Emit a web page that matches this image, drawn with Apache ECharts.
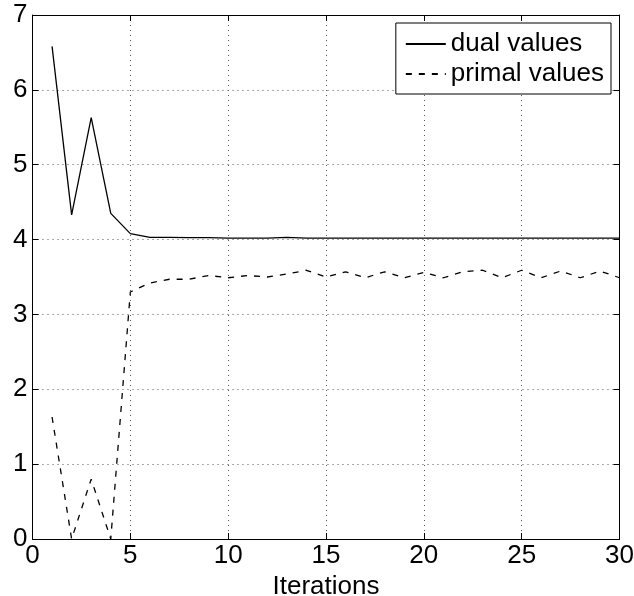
<!DOCTYPE html>
<html>
<head>
<meta charset="utf-8">
<script src="https://cdn.jsdelivr.net/npm/echarts@6/dist/echarts.min.js"></script>
<style>html,body{margin:0;padding:0;background:#fff}#c{width:634px;height:596px}</style>
</head>
<body>
<div id="c"></div>
<script>
const iterations = [1,2,3,4,5,6,7,8,9,10,11,12,13,14,15,16,17,18,19,20,21,22,23,24,25,26,27,28,29,30];
const dualValues = [6.58,4.33,5.63,4.35,4.08,4.03,4.03,4.025,4.025,4.02,4.02,4.02,4.03,4.02,4.02,4.02,4.02,4.02,4.02,4.02,4.02,4.02,4.02,4.02,4.02,4.02,4.02,4.02,4.02,4.02];
const primalValues = [1.63,0,0.80,0,3.30,3.42,3.47,3.47,3.52,3.49,3.52,3.50,3.54,3.59,3.50,3.57,3.49,3.57,3.49,3.56,3.49,3.57,3.59,3.49,3.59,3.49,3.58,3.49,3.58,3.49];
const seriesNames = ['dual values','primal values'];
const xTicks = {min:0,max:30,interval:5};
const yTicks = {min:0,max:7,interval:1};

const font = 'Liberation Sans, Arial, Helvetica, sans-serif';
const chart = echarts.init(document.getElementById('c'));
const gridLine = {show:true,lineStyle:{color:'#555',type:[1,4],width:1}};
const baseX = {type:'value',min:xTicks.min,max:xTicks.max,interval:xTicks.interval,
  axisLine:{show:true,onZero:false,lineStyle:{color:'#000',width:1}},
  axisTick:{show:true,inside:true,length:6,lineStyle:{color:'#000'}}};
const baseY = {type:'value',min:yTicks.min,max:yTicks.max,interval:yTicks.interval,
  axisLine:{show:true,onZero:false,lineStyle:{color:'#000',width:1}},
  axisTick:{show:true,inside:true,length:6,lineStyle:{color:'#000'}}};
chart.setOption({
  animation:false,
  backgroundColor:'#fff',
  grid:{left:32.5,right:14.5,top:15,bottom:57,containLabel:false,outerBoundsMode:'none'},
  legend:{
    orient:'vertical',right:23,top:23,
    data:seriesNames,
    backgroundColor:'#fff',borderColor:'#000',borderWidth:1,borderRadius:0,
    padding:[8,7,7,9],itemGap:4,itemWidth:40,itemHeight:26,
    itemStyle:{opacity:0},
    textStyle:{fontFamily:font,fontSize:26,lineHeight:26,color:'#000'}
  },
  xAxis:[
    Object.assign({},baseX,{position:'bottom',splitLine:gridLine,
      name:'Iterations',nameLocation:'middle',nameGap:30,
      nameTextStyle:{fontFamily:font,fontSize:26,color:'#000'},
      axisLabel:{fontFamily:font,fontSize:26,color:'#000',margin:4}}),
    Object.assign({},baseX,{position:'top',splitLine:{show:false},axisLabel:{show:false}})
  ],
  yAxis:[
    Object.assign({},baseY,{position:'left',splitLine:gridLine,
      axisLabel:{fontFamily:font,fontSize:26,color:'#000',margin:5}}),
    Object.assign({},baseY,{position:'right',splitLine:{show:false},axisLabel:{show:false}})
  ],
  series:[
    {name:seriesNames[0],type:'line',symbol:'none',
      data:iterations.map((x,i)=>[x,dualValues[i]]),
      lineStyle:{color:'#000',width:1.3,type:'solid'},itemStyle:{color:'#000'}},
    {name:seriesNames[1],type:'line',symbol:'none',
      data:iterations.map((x,i)=>[x,primalValues[i]]),
      lineStyle:{color:'#000',width:1.3,type:[6,7]},itemStyle:{color:'#000'}}
  ]
});
</script>
</body>
</html>
